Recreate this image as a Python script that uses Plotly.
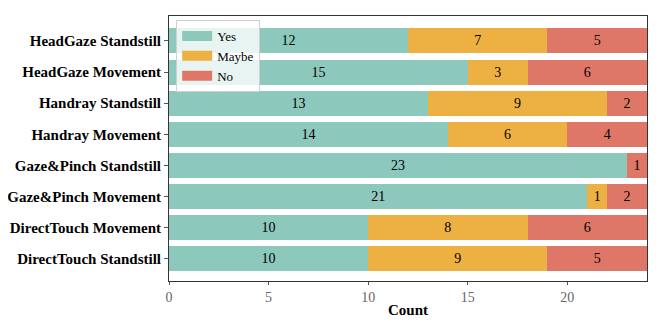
import plotly.graph_objects as go

categories = [
    "HeadGaze Standstill",
    "HeadGaze Movement",
    "Handray Standstill",
    "Handray Movement",
    "Gaze&Pinch Standstill",
    "Gaze&Pinch Movement",
    "DirectTouch Movement",
    "DirectTouch Standstill",
]
yes = [12, 15, 13, 14, 23, 21, 10, 10]
maybe = [7, 3, 9, 6, 0, 1, 8, 9]
no = [5, 6, 2, 4, 1, 2, 6, 5]
x_ticks = [0, 5, 10, 15, 20]

series = [("Yes", yes, "#8DC8BC"), ("Maybe", maybe, "#EDB143"), ("No", no, "#DE7767")]

serif = "Liberation Serif, DejaVu Serif, serif"

fig = go.Figure()
for name, vals, col in series:
    fig.add_trace(go.Bar(
        y=categories, x=vals, name=name, orientation="h",
        marker=dict(color=col, line=dict(width=0)),
        text=[str(v) if v else "" for v in vals],
        textposition="inside", insidetextanchor="middle",
        textfont=dict(color="black", size=14, family=serif),
        constraintext="none", showlegend=False,
    ))
# legend-only entries with wide swatches
for name, vals, col in series:
    fig.add_trace(go.Scatter(
        x=[None], y=[None], mode="lines", name=name,
        line=dict(color=col, width=10),
    ))

# page has an 8px body margin, so figure is shrunk to fit the window
fig.update_layout(
    barmode="stack",
    bargap=0.2,
    width=648, height=316,
    margin=dict(l=161, r=9, t=8, b=43),
    plot_bgcolor="white", paper_bgcolor="white",
    font=dict(family=serif, size=15, color="black"),
    showlegend=True,
    legend=dict(
        x=0.015, y=0.985, xanchor="left", yanchor="top",
        traceorder="normal",
        bgcolor="rgba(255,255,255,0.8)", bordercolor="#d0d0d0", borderwidth=1,
        font=dict(size=13, family=serif), tracegroupgap=0, itemwidth=30,
    ),
    uniformtext=dict(mode="show", minsize=8),
)
fig.update_xaxes(
    range=[0, 24], tickvals=x_ticks, ticks="outside", ticklen=3,
    tickcolor="#555", showline=True, linecolor="#333", linewidth=1, mirror=True,
    showgrid=False, zeroline=False, automargin=False,
    tickfont=dict(size=14, color="#666"),
    title=dict(text="<b>Count</b>", font=dict(size=15, color="black"), standoff=0),
)
fig.update_yaxes(
    categoryorder="array", categoryarray=categories,
    range=[7.71, -0.8], ticks="outside", ticklen=4, tickcolor="#555",
    showline=True, linecolor="#333", linewidth=1, mirror=True, showgrid=False,
    automargin=False,
    tickfont=dict(size=15, color="black"),
    tickvals=categories, ticktext=["<b>%s</b>" % c for c in categories],
)

fig.write_html("out.html")
